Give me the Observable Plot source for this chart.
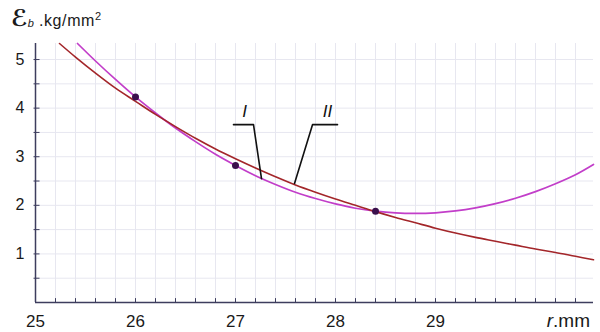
<!DOCTYPE html>
<html><head><meta charset="utf-8">
<script src="https://cdn.jsdelivr.net/npm/d3@7"></script>
<script src="https://cdn.jsdelivr.net/npm/@observablehq/plot@0.6"></script>
<style>
body{margin:0;background:#fff;}
#chart{width:600px;height:332px;}
</style>
</head><body><div id="chart"></div>
<script>
// tick labels and grid
const xTickLabels = [25, 26, 27, 28, 29];
const yTickLabels = [1, 2, 3, 4, 5];
const xMinor = [25.2, 25.4, 25.6, 25.8, 26, 26.2, 26.4, 26.6, 26.8, 27, 27.2, 27.4, 27.6, 27.8, 28, 28.2, 28.4, 28.6, 28.8, 29, 29.2, 29.4, 29.6, 29.8, 30, 30.2, 30.4];
const yMinor = [0.5, 1, 1.5, 2, 2.5, 3, 3.5, 4, 4.5, 5];

// curve I (magenta)
const curveIx = [25.42, 25.6, 25.8, 26.0, 26.2, 26.4, 26.6, 26.8, 27.0, 27.2, 27.4, 27.6, 27.8, 28.0, 28.2, 28.4, 28.6, 28.8, 29.0, 29.2, 29.4, 29.6, 29.8, 30.0, 30.2, 30.4, 30.58];
const curveIy = [5.33, 4.97, 4.59, 4.23, 3.90, 3.59, 3.31, 3.05, 2.82, 2.61, 2.43, 2.27, 2.14, 2.03, 1.94, 1.88, 1.844, 1.833, 1.846, 1.884, 1.947, 2.034, 2.146, 2.282, 2.444, 2.629, 2.84];

// curve II (dark red)
const curveIIx = [25.24, 25.4, 25.6, 25.8, 26.0, 26.2, 26.4, 26.6, 26.8, 27.0, 27.2, 27.4, 27.6, 27.8, 28.0, 28.2, 28.4, 28.6, 28.8, 29.0, 29.2, 29.4, 29.6, 29.8, 30.0, 30.2, 30.4, 30.58];
const curveIIy = [5.33, 5.05, 4.72, 4.41, 4.14, 3.87, 3.62, 3.38, 3.16, 2.96, 2.77, 2.59, 2.42, 2.27, 2.13, 2.00, 1.87, 1.75, 1.64, 1.53, 1.43, 1.34, 1.26, 1.18, 1.10, 1.03, 0.95, 0.88];

// measured points
const pointsX = [26.0, 27.0, 28.4];
const pointsY = [4.23, 2.82, 1.88];

// annotation leaders and labels
const leaderIx = [26.98, 27.18, 27.26];
const leaderIy = [3.66, 3.66, 2.55];
const leaderIIx = [28.02, 27.77, 27.59];
const leaderIIy = [3.66, 3.66, 2.45];
const curveLabels = ["I", "II"];
const curveLabelX = [27.09, 27.92];
const curveLabelY = [3.93, 3.93];

const gridColor = "#e7e7f0";
const axisColor = "#3d3d5e";
const font = "'Liberation Sans', Arial, sans-serif";

const toPts = (xs, ys) => xs.map((x, i) => ({x, y: ys[i]}));

const chart = Plot.plot({
  width: 600,
  height: 332,
  marginLeft: 35,
  marginRight: 7,
  marginTop: 43,
  marginBottom: 30,
  style: {fontFamily: font, background: "#fff"},
  x: {domain: [25, 30.58], label: null},
  y: {domain: [0, 5.33], label: null},
  marks: [
    Plot.ruleX(xMinor, {stroke: gridColor, strokeWidth: 1}),
    Plot.ruleY(yMinor, {stroke: gridColor, strokeWidth: 1}),
    Plot.axisX({ticks: xTickLabels, tickSize: 0, tickPadding: 12, fontSize: 17, fill: "#1a1a1a", label: null, tickFormat: d => String(d)}),
    Plot.axisY({ticks: yTickLabels, tickSize: 0, tickPadding: 11, fontSize: 16, fill: "#1a1a1a", label: null, tickFormat: d => String(d)}),
    Plot.line(toPts(curveIx, curveIy), {x: "x", y: "y", stroke: "#c23ec9", strokeWidth: 1.7, curve: "catmull-rom"}),
    Plot.line(toPts(curveIIx, curveIIy), {x: "x", y: "y", stroke: "#a3262a", strokeWidth: 1.6, curve: "catmull-rom"}),
    Plot.dot(toPts(pointsX, pointsY), {x: "x", y: "y", r: 3.5, fill: "#3b0f4c", stroke: "none"}),
    Plot.line(toPts(leaderIx, leaderIy), {x: "x", y: "y", stroke: "#111", strokeWidth: 1.6}),
    Plot.line(toPts(leaderIIx, leaderIIy), {x: "x", y: "y", stroke: "#111", strokeWidth: 1.6}),
    Plot.text(curveLabels, {x: (d, i) => curveLabelX[i], y: (d, i) => curveLabelY[i], text: d => d, fontSize: 17, fontStyle: "italic", fill: "#111"}),
    Plot.ruleX(xMinor, {y1: 0, y2: 0.08, stroke: axisColor, strokeWidth: 1}),
    Plot.ruleY(yMinor, {x1: 24.985, x2: 25.045, stroke: axisColor, strokeWidth: 1}),
    Plot.ruleX([25], {stroke: axisColor, strokeWidth: 1.5}),
    Plot.ruleY([0], {stroke: axisColor, strokeWidth: 1.5})
  ]
});

const svg = d3.select(chart);
const t = svg.append("text").attr("x", 11).attr("y", 26).attr("fill", "#1a1a1a")
  .attr("text-anchor", "start").style("font-family", font);
t.append("tspan").text("ℰ").style("font-size", "23px").style("font-family", "'DejaVu Serif', 'DejaVu Sans', serif").style("font-style", "italic").style("font-weight", "bold");
t.append("tspan").text("b").style("font-size", "11px").attr("dy", 1).style("font-style", "italic");
t.append("tspan").text(" .kg/mm").style("font-size", "16px").attr("dy", -1).style("letter-spacing", "0.6px");
t.append("tspan").text("2").style("font-size", "11px").attr("dy", -6);

const r = svg.append("text").attr("x", 590).attr("y", 327).attr("text-anchor", "end").attr("fill", "#1a1a1a")
  .style("font-family", font).style("font-size", "19px");
r.append("tspan").text("r").style("font-style", "italic");
r.append("tspan").text(".mm");

document.getElementById("chart").appendChild(chart);
</script>
</body></html>
